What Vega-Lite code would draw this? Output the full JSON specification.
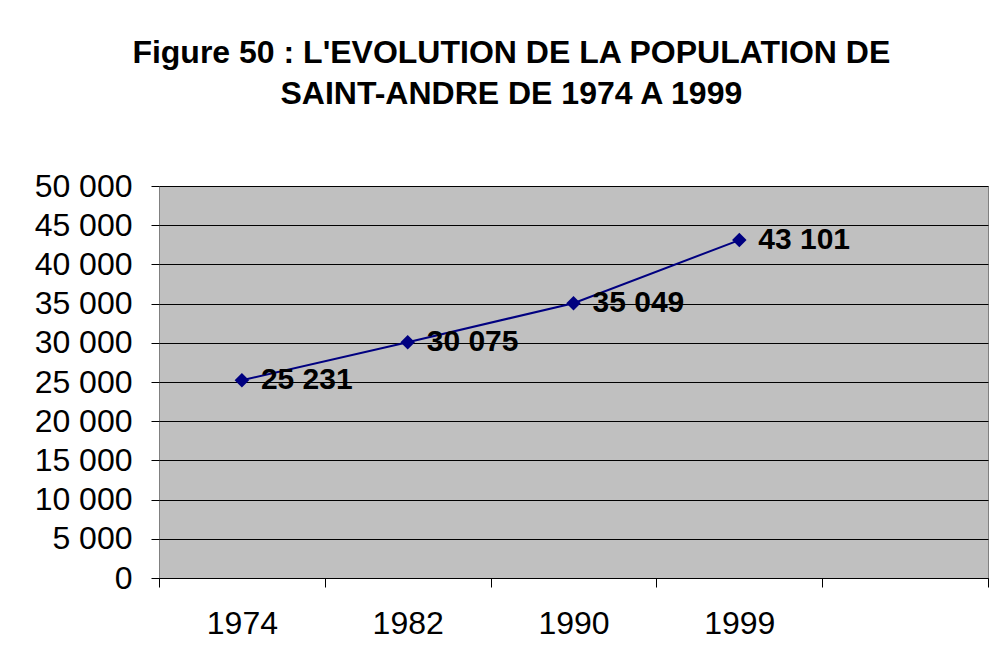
{
  "$schema": "https://vega.github.io/schema/vega-lite/v6.json",
  "width": 829,
  "height": 392,
  "autosize": {"type": "none"},
  "padding": {"left": 159, "top": 186, "right": 6, "bottom": 94},
  "background": "white",
  "title": {
    "text": ["Figure 50 : L'EVOLUTION DE LA POPULATION DE", "SAINT-ANDRE DE 1974 A 1999"],
    "font": "Liberation Sans",
    "fontSize": 32,
    "fontWeight": "bold",
    "color": "black",
    "anchor": "middle",
    "frame": "bounds",
    "lineHeight": 41,
    "offset": 59
  },
  "data": {
    "values": [
      {"year": "1974", "population": 25231},
      {"year": "1982", "population": 30075},
      {"year": "1990", "population": 35049},
      {"year": "1999", "population": 43101}
    ]
  },
  "encoding": {
    "x": {
      "field": "year",
      "type": "ordinal",
      "scale": {"type": "band", "domain": ["1974", "1982", "1990", "1999", "_"], "paddingInner": 0, "paddingOuter": 0},
      "axis": {
        "title": null,
        "tickBand": "extent",
        "labelExpr": "datum.value == '_' ? '' : datum.value",
        "labelAngle": 0,
        "tickSize": 9,
        "tickColor": "black",
        "domainColor": "black",
        "labelFont": "Liberation Sans",
        "labelFontSize": 32,
        "labelColor": "black",
        "labelPadding": 21,
        "grid": false
      }
    },
    "y": {
      "field": "population",
      "type": "quantitative",
      "scale": {"domain": [0, 50000], "nice": false},
      "axis": {
        "title": null,
        "values": [0, 5000, 10000, 15000, 20000, 25000, 30000, 35000, 40000, 45000, 50000],
        "labelExpr": "format(datum.value, ',')",
        "grid": true,
        "gridColor": "black",
        "gridWidth": 1,
        "gridOpacity": 1,
        "domain": false,
        "tickSize": 8,
        "tickColor": "black",
        "labelFont": "Liberation Sans",
        "labelFontSize": 32,
        "labelColor": "black",
        "labelPadding": 19
      }
    }
  },
  "layer": [
    {"mark": {"type": "line", "color": "#000080", "strokeWidth": 2}},
    {"mark": {"type": "point", "shape": "diamond", "filled": true, "color": "#000080", "size": 210, "opacity": 1}},
    {
      "mark": {"type": "text", "align": "left", "baseline": "middle", "dx": 19, "font": "Liberation Sans", "fontSize": 30, "fontWeight": "bold", "color": "black"},
      "encoding": {"text": {"field": "population", "type": "quantitative", "format": ","}}
    }
  ],
  "config": {
    "locale": {"number": {"decimal": ",", "thousands": " ", "grouping": [3], "currency": ["", " €"]}},
    "view": {"fill": "#C0C0C0", "stroke": "#808080", "strokeWidth": 1}
  }
}
